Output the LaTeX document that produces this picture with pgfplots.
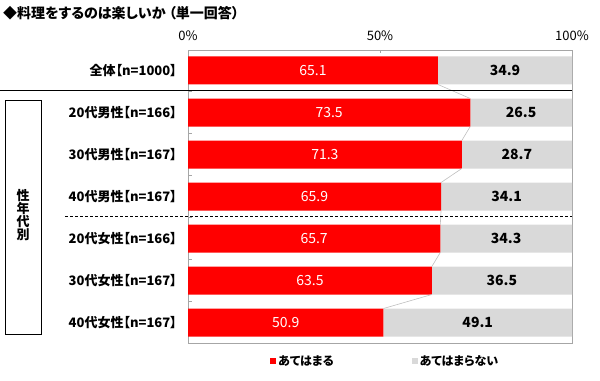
\documentclass[border=0pt]{standalone}
\usepackage{fontspec}
\setmainfont{Noto Sans CJK JP}[RawFeature=+palt]
\usepackage{pgfplots}
\pgfplotsset{compat=1.18}
\definecolor{myred}{HTML}{FF0000}
\definecolor{mygray}{HTML}{D9D9D9}
\definecolor{framec}{HTML}{A6A6A6}
\definecolor{connc}{HTML}{BFBFBF}
\newcommand{\fs}[1]{\fontsize{#1}{#1}\selectfont}
\begin{document}
\begin{tikzpicture}[x=1bp,y=1bp]
\pgfplotsset{
 base/.style={
  at={(188bp,37bp)}, anchor=south west,
  scale only axis, width=384bp, height=293bp,
  xmin=0, xmax=100, ymin=-0.488, ymax=6.488, y dir=reverse,
 }
}
\begin{axis}[base,
  xbar stacked, bar width=28bp,
  axis line style={draw=framec},
  xtick={0,50,100}, xticklabels={0\%,50\%,100\%},
  xtick pos=upper, xticklabel pos=upper,
  xticklabel style={font=\fs{13bp}, inner sep=0pt, anchor=south, yshift=9bp},
  ytick={0,...,6},
  yticklabels={全体【n=1000】,20代男性【n=166】,30代男性【n=167】,40代男性【n=167】,20代女性【n=166】,30代女性【n=167】,40代女性【n=167】},
  yticklabel style={font=\bfseries\fs{13bp}, anchor=east, inner sep=0pt, xshift=-11bp},
  ytick pos=left,
  major tick length=3bp,
  minor ytick={0.5,1.5,...,5.5},
  minor tick length=4bp,
  tick style={draw=framec},
  major y tick style={draw=none},
  minor y tick style={draw=framec},
  legend columns=2,
  legend style={at={(0.2135,-0.0614)}, anchor=west, draw=none, fill=none,
    inner sep=0pt, font=\bfseries\fs{12bp}, nodes={inner sep=0pt},
    /tikz/every odd column/.append style={column sep=2bp},
    /tikz/every even column/.append style={column sep=78bp}},
  legend image code/.code={\fill[#1] (0bp,-3bp) rectangle (6bp,3bp);},
]
\addplot[fill=myred, draw=none] coordinates {(65.1,0) (73.5,1) (71.3,2) (65.9,3) (65.7,4) (63.5,5) (50.9,6)};
\addplot[fill=mygray, draw=none] coordinates {(34.9,0) (26.5,1) (28.7,2) (34.1,3) (34.3,4) (36.5,5) (49.1,6)};
\legend{あてはまる,あてはまらない}
\end{axis}
\begin{axis}[base, axis lines=none, clip=false]
\addplot[connc, line width=0.6bp] coordinates {(65.1,0.3333) (73.5,0.6667)};
\addplot[connc, line width=0.6bp] coordinates {(73.5,1.3333) (71.3,1.6667)};
\addplot[connc, line width=0.6bp] coordinates {(71.3,2.3333) (65.9,2.6667)};
\addplot[connc, line width=0.6bp] coordinates {(65.9,3.3333) (65.7,3.6667)};
\addplot[connc, line width=0.6bp] coordinates {(65.7,4.3333) (63.5,4.6667)};
\addplot[connc, line width=0.6bp] coordinates {(63.5,5.3333) (50.9,5.6667)};
\addplot[draw=none, mark=none, nodes near coords, point meta=explicit symbolic,
  every node near coord/.style={anchor=center, text=white, font=\fs{14bp}}]
  coordinates {(32.55,0)[65.1] (36.75,1)[73.5] (35.65,2)[71.3] (32.95,3)[65.9] (32.85,4)[65.7] (31.75,5)[63.5] (25.45,6)[50.9]};
\addplot[draw=none, mark=none, nodes near coords, point meta=explicit symbolic,
  every node near coord/.style={anchor=center, text=black, font=\bfseries\fs{14bp}}]
  coordinates {(82.55,0)[34.9] (86.75,1)[26.5] (85.65,2)[28.7] (82.95,3)[34.1] (82.85,4)[34.3] (81.75,5)[36.5] (75.45,6)[49.1]};
\end{axis}
% decorations
\draw[black, line width=0.9bp] (0,290) -- (572,290);
\draw[black, line width=0.8bp, dash pattern=on 3bp off 2bp] (65,164) -- (572,164);
\draw[black, line width=0.8bp] (5,46) rectangle (41,280);
\node[font=\bfseries\fs{13bp}, align=center, inner sep=0pt] at (23,164.5) {\baselineskip=14bp 性\\年\\代\\別};
\node[font=\bfseries\fs{14bp}, anchor=west, inner sep=0pt] at (3,366.5) {◆料理をするのは楽しいか （単一回答）};
\pgfresetboundingbox
\path (0,0) rectangle (600,380);
\end{tikzpicture}
\end{document}
